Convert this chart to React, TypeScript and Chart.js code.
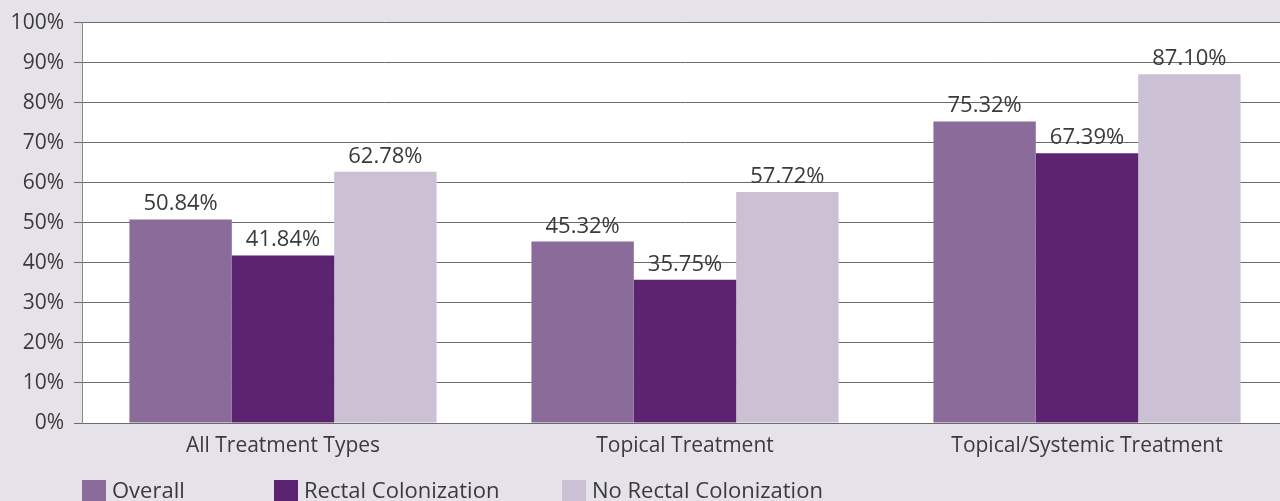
import React, { useEffect, useRef } from "react";
import { Chart, registerables } from "chart.js";

Chart.register(...registerables);

const categories = ["All Treatment Types", "Topical Treatment", "Topical/Systemic Treatment"];
const seriesNames = ["Overall", "Rectal Colonization", "No Rectal Colonization"];
const overall = [50.84, 45.32, 75.32];
const rectal = [41.84, 35.75, 67.39];
const noRectal = [62.78, 57.72, 87.1];
const yTicks = [0, 10, 20, 30, 40, 50, 60, 70, 80, 90, 100];

const COLORS = ["#8b6b99", "#5b2370", "#cbc0d4"];
const BG = "#e6e2ea";
const TEXT = "#3a3a3a";
const LINE = "#6b6b6b";
const FONT = "'Open Sans', Lato, sans-serif";

const backgroundPlugin = {
  id: "panelBackground",
  beforeDraw(chart: any) {
    const { ctx, chartArea } = chart;
    ctx.save();
    ctx.fillStyle = BG;
    ctx.fillRect(0, 0, chart.width, chart.height);
    ctx.fillStyle = "#ffffff";
    ctx.fillRect(chartArea.left, chartArea.top, chartArea.right - chartArea.left, chartArea.bottom - chartArea.top);
    ctx.restore();
  },
};

const valueLabelPlugin = {
  id: "valueLabels",
  afterDatasetsDraw(chart: any) {
    const { ctx } = chart;
    ctx.save();
    ctx.font = `22px ${FONT}`;
    ctx.fillStyle = TEXT;
    ctx.textAlign = "center";
    ctx.textBaseline = "alphabetic";
    chart.data.datasets.forEach((ds: any, i: number) => {
      const meta = chart.getDatasetMeta(i);
      meta.data.forEach((bar: any, j: number) => {
        const v = ds.data[j] as number;
        ctx.fillText(v.toFixed(2) + "%", bar.x, bar.y - 9);
      });
    });
    ctx.restore();
  },
};

const legendPlugin = {
  id: "fixedLegend",
  afterDraw(chart: any, _args: any, opts: any) {
    const { ctx } = chart;
    const xs: number[] = opts.positions;
    ctx.save();
    ctx.font = `22px ${FONT}`;
    ctx.textBaseline = "alphabetic";
    ctx.textAlign = "left";
    chart.data.datasets.forEach((ds: any, i: number) => {
      const x = xs[i];
      ctx.fillStyle = ds.backgroundColor;
      ctx.fillRect(x, opts.top, 24, 24);
      ctx.fillStyle = TEXT;
      ctx.fillText(ds.label, x + 30, opts.baseline);
    });
    ctx.restore();
  },
};

export default function App() {
  const canvasRef = useRef<HTMLCanvasElement | null>(null);

  useEffect(() => {
    if (!canvasRef.current) return;
    const seriesValues = [overall, rectal, noRectal];
    const chart = new Chart(canvasRef.current, {
      type: "bar",
      data: {
        labels: categories,
        datasets: seriesNames.map((name, i) => ({
          label: name,
          data: seriesValues[i],
          backgroundColor: COLORS[i],
          borderWidth: 0,
          categoryPercentage: 0.764,
          barPercentage: 1,
        })),
      },
      options: {
        responsive: false,
        animation: false,
        devicePixelRatio: 1,
        layout: { padding: { top: 21, right: 12, left: 0, bottom: 0 } },
        plugins: {
          legend: { display: false },
          tooltip: { enabled: false },
          fixedLegend: { positions: [82, 274, 562], top: 480, baseline: 498 },
        } as any,
        scales: {
          x: {
            grid: { display: false },
            border: { display: true, color: LINE, width: 1 },
            ticks: { font: { family: FONT, size: 21 }, color: TEXT, padding: 2, maxRotation: 0 },
            afterFit(scale: any) {
              scale.height = 78;
            },
          },
          y: {
            min: 0,
            max: 100,
            afterBuildTicks(scale: any) {
              scale.ticks = yTicks.map((v) => ({ value: v }));
            },
            afterFit(scale: any) {
              scale.width = 82;
            },
            grid: { color: LINE, lineWidth: 1, tickLength: 8, drawTicks: true },
            border: { display: true, color: "#8a8a8a", width: 1 },
            ticks: {
              font: { family: FONT, size: 21 },
              color: TEXT,
              padding: 10,
              callback: (v: any) => `${v}%`,
            },
          },
        },
      },
      plugins: [backgroundPlugin, valueLabelPlugin, legendPlugin],
    });
    return () => chart.destroy();
  }, []);

  return (
    <div
      style={{
        position: "fixed",
        left: 0,
        top: 0,
        width: 1280,
        height: 501,
        overflow: "hidden",
        background: BG,
      }}
    >
      <canvas ref={canvasRef} width={1300} height={501} style={{ display: "block", width: 1300, height: 501 }} />
    </div>
  );
}
